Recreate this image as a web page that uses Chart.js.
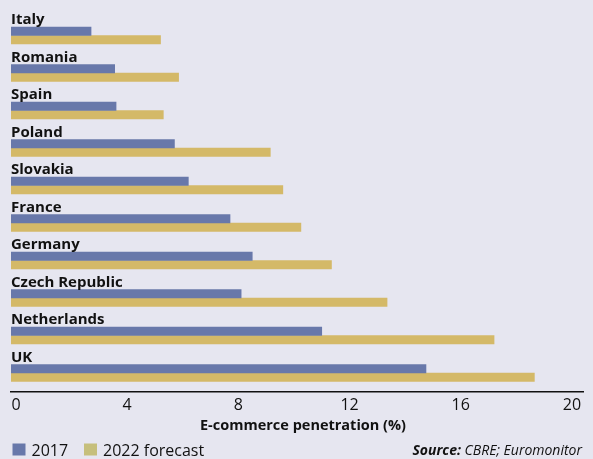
<!DOCTYPE html>
<html>
<head>
<meta charset="utf-8">
<script src="https://cdn.jsdelivr.net/npm/chart.js@4"></script>
<style>
  html, body { margin: 0; padding: 0; background: #e6e6f0; }
  #grafico { display: block; }
</style>
</head>
<body>
<canvas id="grafico" width="593" height="459"></canvas>
<script>
// dati
const paesi = ['Italy', 'Romania', 'Spain', 'Poland', 'Slovakia', 'France', 'Germany', 'Czech Republic', 'Netherlands', 'UK'];
const anno2017 = [2.7, 3.55, 3.6, 5.7, 6.2, 7.7, 8.5, 8.1, 11.0, 14.75];
const previsione2022 = [5.2, 5.85, 5.3, 9.15, 9.6, 10.25, 11.35, 13.35, 17.2, 18.65];
const tacche = [0, 4, 8, 12, 16, 20];
const titoloAsse = 'E-commerce penetration (%)';
const fonte = ['Source:', ' CBRE; Euromonitor'];

const BLU = '#6878aa';
const ORO = '#d4b968';
const ORO_LEGENDA = '#c6bf7c';
const FONT = "'Open Sans', sans-serif";
// l'asse parte un po' prima dello zero e finisce un po' dopo il 20
const X_MIN = -0.18;
const X_MAX = 20.4;

// etichette dei paesi sopra le barre
const etichettePaesi = {
  id: 'etichettePaesi',
  afterDatasetsDraw(chart) {
    const ctx = chart.ctx;
    const y = chart.scales.y;
    ctx.save();
    ctx.fillStyle = '#111';
    ctx.font = "bold 15px " + FONT;
    ctx.textAlign = 'left';
    ctx.textBaseline = 'alphabetic';
    for (let i = 0; i < paesi.length; i++) {
      ctx.fillText(paesi[i], chart.chartArea.left, y.getPixelForValue(i) - 11.2);
    }
    ctx.restore();
  }
};

// titolo asse, legenda e fonte in basso
const parteBassa = {
  id: 'parteBassa',
  afterDraw(chart) {
    const ctx = chart.ctx;
    ctx.save();
    ctx.fillStyle = '#111';
    ctx.textBaseline = 'alphabetic';

    // titolo asse x
    ctx.font = "bold 14.5px " + FONT;
    ctx.textAlign = 'center';
    ctx.fillText(titoloAsse, 303, 430);

    // legenda
    ctx.textAlign = 'left';
    ctx.font = "16px " + FONT;
    const colori = [BLU, ORO_LEGENDA];
    const posX = [12.5, 84];
    chart.data.datasets.forEach((ds, i) => {
      ctx.fillStyle = colori[i];
      ctx.fillRect(posX[i], 443.5, 13, 12);
      ctx.fillStyle = '#111';
      ctx.fillText(ds.label, posX[i] + 19, 455.5);
    });

    // fonte
    ctx.font = "italic 14px " + FONT;
    const w2 = ctx.measureText(fonte[1]).width;
    ctx.font = "italic bold 14px " + FONT;
    const w1 = ctx.measureText(fonte[0]).width;
    const destra = 582;
    const base = 455;
    ctx.fillText(fonte[0], destra - w2 - w1, base);
    ctx.font = "italic 14px " + FONT;
    ctx.fillText(fonte[1], destra - w2, base);
    ctx.restore();
  }
};

new Chart(document.getElementById('grafico'), {
  type: 'bar',
  data: {
    labels: paesi,
    datasets: [
      { label: '2017', data: anno2017, backgroundColor: BLU, barThickness: 8.5, base: X_MIN },
      { label: '2022 forecast', data: previsione2022, backgroundColor: ORO, barThickness: 8.5, base: X_MIN }
    ]
  },
  options: {
    indexAxis: 'y',
    responsive: false,
    animation: false,
    devicePixelRatio: 1,
    layout: { padding: { left: 11, right: 10, top: 16.75, bottom: 0 } },
    scales: {
      y: {
        offset: true,
        ticks: { display: false },
        grid: { display: false, drawTicks: false },
        border: { display: false }
      },
      x: {
        min: X_MIN,
        max: X_MAX,
        afterBuildTicks(axis) { axis.ticks = tacche.map(v => ({ value: v })); },
        afterFit(axis) { axis.height = 459 - 391.75; },
        ticks: { color: '#111', font: { family: FONT, size: 16 }, padding: 4 },
        grid: { display: false, drawTicks: false },
        border: { display: true, color: '#111', width: 1.5 }
      }
    },
    plugins: {
      legend: { display: false },
      tooltip: { enabled: false }
    }
  },
  plugins: [etichettePaesi, parteBassa]
});
</script>
</body>
</html>
